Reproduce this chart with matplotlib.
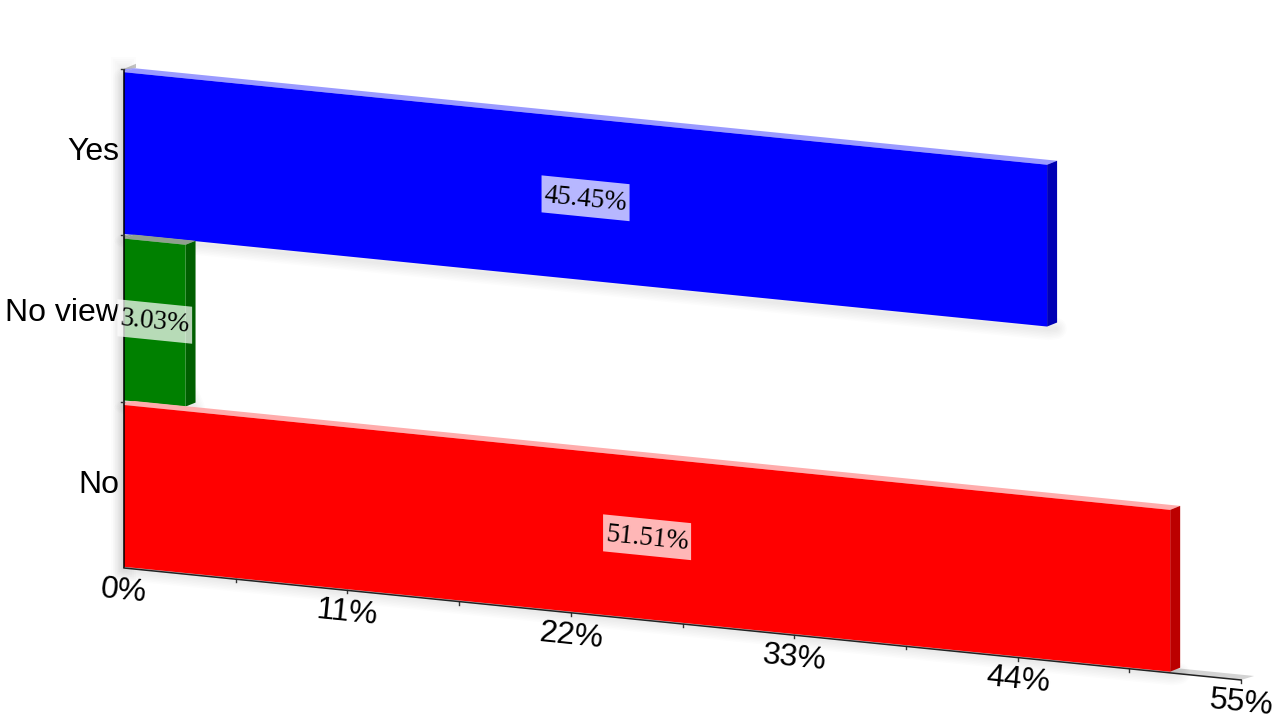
import matplotlib
matplotlib.use("Agg")
import matplotlib.pyplot as plt
from matplotlib.patches import Polygon
from matplotlib.transforms import Affine2D
import numpy as np

categories = ["Yes", "No view", "No"]
values = [45.45, 3.03, 51.51]
labels = ["45.45%", "3.03%", "51.51%"]
front_colors = ["#0000ff", "#008000", "#ff0000"]
side_colors = ["#0000b4", "#005f00", "#bb0000"]
top_colors = ["#9a9aff", "#8f9f8f", "#ffacac"]
x_ticks = [0, 11, 22, 33, 44, 55]
x_tick_labels = ["0%", "11%", "22%", "33%", "44%", "55%"]
x_minor = [5.5, 16.5, 27.5, 38.5, 49.5]
y_label_nudge = [0, 5, 0]

fig = plt.figure(figsize=(12.8, 7.2), dpi=100, facecolor="white")
ax = fig.add_axes([0, 0, 1, 1])
ax.set_xlim(0, 1280)
ax.set_ylim(720, 0)
ax.axis("off")

# skewed axis: (value in %, band units counted from the bottom) -> pixels
ox, oy = 124.0, 568.0
kx, ky = 20.31, 2.036
band = 166.4
sk = Affine2D(np.array([[kx, 0, ox], [ky, -band, oy], [0, 0, 1]], dtype=float))
P = lambda v, b: sk.transform((v, b))
dx, dy = 10.0, -4.0
angle = np.degrees(np.arctan(ky / kx))
SANS = "Liberation Sans"
SERIF = "Liberation Serif"

# floor and wall slivers
o = P(0, 0); e = P(55, 0); t = P(0, 3)
ax.add_patch(Polygon([o, e, e + (13, -4), o + (13, -4)], fc="#d4d4d4", ec="none", zorder=1))
ax.add_patch(Polygon([t, t + (12, -5), t + (12, -1), t + (0, 3)], fc="#c4c4c4", ec="none", zorder=1))

# soft shadow of the plot wall
for w in range(1, 7):
    ax.plot([ox - 1, ox - 1], [t[1], o[1]], color="black", alpha=0.01, lw=w * 3, zorder=1.2)

# bars
for i, (name, val) in enumerate(zip(categories, values)):
    lo = 2 - i + 1.2 / band
    hi = 2 - i + 163.0 / band
    a, b, c, d = P(0, lo), P(val, lo), P(val, hi), P(0, hi)
    front = [a, b, c, d]
    side = [b, b + (dx, dy), c + (dx, dy), c]
    top = [d, d + (dx, dy), c + (dx, dy), c]
    cap = [d, d + (0, -3), d + (dx, dy)]
    shadow = [a + (0, 3), b + (2, 3), b + (dx - 1, 2), d + (0, 6)]
    for w in range(1, 8):
        ax.add_patch(Polygon(shadow, closed=True, fc="none", ec="black", alpha=0.012,
                             lw=w * 2.2, joinstyle="round", zorder=2 + i * 0.1))
    ax.add_patch(Polygon(top, fc=top_colors[i], ec="none", zorder=3 + i * 0.1))
    ax.add_patch(Polygon(cap, fc=top_colors[i], ec="none", zorder=3 + i * 0.1))
    ax.add_patch(Polygon(side, fc=side_colors[i], ec="none", zorder=3 + i * 0.1))
    ax.add_patch(Polygon(front, fc=front_colors[i], ec="none", zorder=3.05 + i * 0.1))

# axis lines
ax.plot([o[0], t[0]], [o[1], t[1]], color="black", lw=1.1, zorder=5, solid_capstyle="butt")
ax.plot([o[0], e[0]], [o[1], e[1]], color="#222222", lw=1.1, zorder=5)
for b in (1, 2, 3):
    p = P(0, b)
    ax.plot([p[0] - 3, p[0]], [p[1], p[1]], color="#333333", lw=1, zorder=5)
for v in list(x_ticks[1:]) + x_minor:
    p = P(v, 0)
    ax.plot([p[0], p[0]], [p[1], p[1] + 3], color="#333333", lw=1, zorder=2.5)

# x tick labels
for v, s in zip(x_ticks, x_tick_labels):
    p = P(v, 0)
    ax.text(p[0], p[1] + 23, s, family=SANS, fontsize=23, color="black",
            rotation=-angle, rotation_mode="anchor", ha="center", va="center", zorder=6)

# y tick labels
for i, name in enumerate(categories):
    p = P(0, 2 - i + 0.5)
    ax.text(119, p[1] - y_label_nudge[i], name, family=SANS, fontsize=23, color="black",
            ha="right", va="center", zorder=6)

# value labels on skewed translucent boxes
for i, (val, s) in enumerate(zip(values, labels)):
    c = P(val / 2, 2 - i + 0.5) + (0, 1)
    hw = ((len(s) - 2) * 0.5 + 0.25 + 0.833) / 2 * 26.6 + 3
    hh = 18.5
    sl = ky / kx
    m = c + (0, -1)
    box = [m + (-hw, -hh - hw * sl), m + (hw, -hh + hw * sl), m + (hw, hh + hw * sl), m + (-hw, hh - hw * sl)]
    ax.add_patch(Polygon(box, fc="white", ec="none", alpha=0.72, zorder=7))
    ax.text(c[0], c[1], s, family=SERIF, fontsize=19.5, color="black",
            rotation=-angle, rotation_mode="anchor", ha="center", va="center", zorder=8)

fig.savefig("out.png", dpi=100, facecolor="white")
